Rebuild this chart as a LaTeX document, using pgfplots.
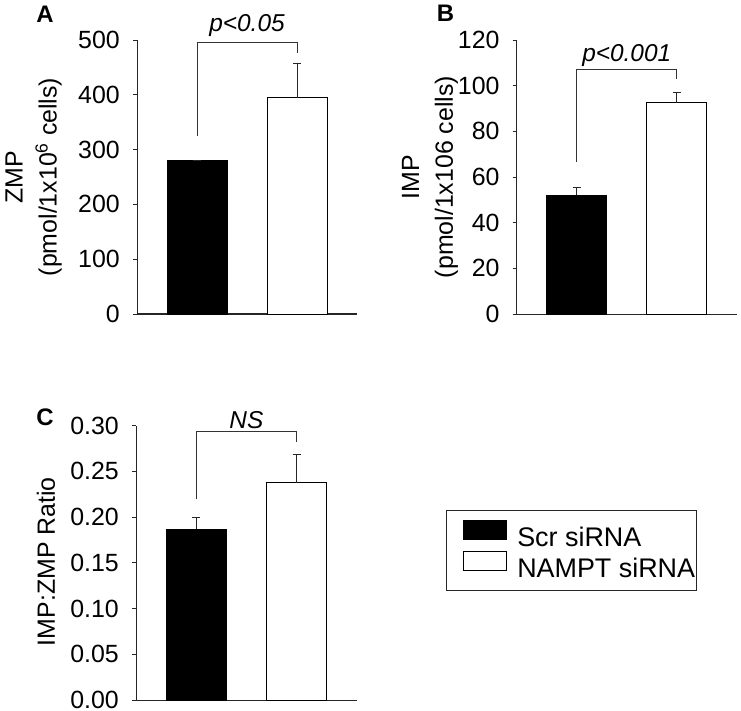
\documentclass[border=0pt]{standalone}
\usepackage{pgfplots}
\pgfplotsset{compat=1.18}
\usepackage{fontspec}
\setmainfont{Liberation Sans}
\newcommand{\bigf}{\fontsize{25}{34}\selectfont}
\tikzset{
  brk/.style={line width=0.8pt, black!80},
  sig/.style={font=\fontsize{24.5}{28}\selectfont\itshape},
  lett/.style={font=\fontsize{24}{28}\selectfont\bfseries},
}
\pgfplotsset{
  panel/.style={
    scale only axis, width=220bp, height=274bp,
    axis lines*=left, anchor=south west,
    xmin=0.4, xmax=2.6, ymin=0, xtick=\empty,
    tick align=outside, major tick length=4bp,
    axis line style={line width=0.8pt, black!85},
    ytick style={line width=0.8pt, black!85},
    /pgf/number format/assume math mode=true,
    yticklabel style={font=\bigf, anchor=east, inner sep=0pt, xshift=-13bp},
    ylabel style={anchor=center, align=center, font=\bigf},
    clip=false,
  },
  mybar/.style={ybar, bar width=0.6, bar shift=0pt, line width=0.8pt,
    error bars/y dir=plus, error bars/y explicit,
    error bars/error bar style={line width=0.8pt, black!85},
    error bars/error mark options={rotate=90, mark size=4bp, line width=0.8pt, black!85}},
  myleg/.style={legend image code/.code={\path (0bp,0bp); \draw[line width=0.8pt,#1] (16bp,-5bp) rectangle (59bp,14bp);}},
}
\begin{document}
\begin{tikzpicture}
\useasboundingbox (0,0) rectangle (741bp,711bp);
% Panel A
\begin{axis}[panel, at={(137bp,397bp)}, ymax=500, ytick={0,100,...,500},
  x axis line style={line width=1.5pt},
  ylabel={ZMP\\(pmol/1x10\textsuperscript{6} cells)},
  ylabel style={at={(axis description cs:-0.47,0.5)}}]
\addplot[mybar, fill=black, draw=black] coordinates {(1,280) +- (0,0)};
\addplot[mybar, fill=white, draw=black] coordinates {(2,395) +- (0,62)};
\draw[brk] (axis cs:1,325) -- (axis cs:1,495) -- (axis cs:2,495) -- (axis cs:2,477);
\node[sig] at (axis cs:1.5,527) {p<0.05};
\node[lett] at (axis description cs:-0.418,1.095) {A};
\end{axis}
% Panel B
\begin{axis}[panel, at={(516.7bp,397bp)}, ymax=120, ytick={0,20,...,120},
  ylabel={IMP\\(pmol/1x106 cells)},
  ylabel style={at={(axis description cs:-0.394,0.5)}}]
\addplot[mybar, fill=black, draw=black] coordinates {(1,52) +- (0,3.5)};
\addplot[mybar, fill=white, draw=black] coordinates {(2,92.5) +- (0,4.6)};
\draw[brk] (axis cs:1,66.7) -- (axis cs:1,107) -- (axis cs:2,107) -- (axis cs:2,102.8);
\node[sig] at (axis cs:1.5,113.4) {p<0.001};
\node[lett] at (axis description cs:-0.324,1.099) {B};
\end{axis}
% Panel C
\begin{axis}[panel, at={(136bp,11bp)}, width=220.7bp, height=274.3bp,
  ymax=0.30, ytick={0,0.05,...,0.30},
  yticklabel style={/pgf/number format/.cd, fixed, fixed zerofill, precision=2},
  ylabel={IMP:ZMP Ratio},
  ylabel style={at={(axis description cs:-0.408,0.504)}},
  legend style={at={(axis description cs:1.405,0.693)}, anchor=north west,
    draw=black!85, line width=0.8pt, font=\fontsize{27}{32}\selectfont, legend cell align=left,
    inner xsep=1bp, inner ysep=7bp, row sep=-4bp,
    nodes={inner sep=0pt, text height=29bp, text depth=6bp},
    /tikz/every odd column/.append style={column sep=10bp},
    /tikz/every even column/.append style={column sep=0bp}}]
\addplot[mybar, fill=black, draw=black, myleg] coordinates {(1,0.187) +- (0,0.013)};
\addlegendentry{Scr siRNA}
\addplot[mybar, fill=white, draw=black, myleg] coordinates {(2,0.2377) +- (0,0.031)};
\addlegendentry{NAMPT siRNA}
\draw[brk] (axis cs:1,0.2195) -- (axis cs:1,0.2935) -- (axis cs:2,0.2935) -- (axis cs:2,0.2825);
\node[sig] at (axis cs:1.5,0.306) {NS};
\node[lett] at (axis description cs:-0.412,1.032) {C};
\end{axis}
\end{tikzpicture}
\end{document}
